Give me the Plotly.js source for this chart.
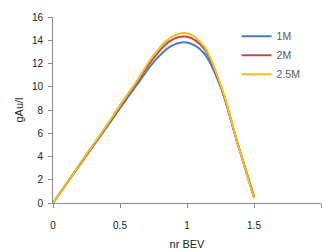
<!DOCTYPE html>
<html>
<head>
<meta charset="utf-8">
<script src="https://cdn.plot.ly/plotly-3.0.1.min.js"></script>
<style>html,body{margin:0;padding:0;background:#fff;}#chart{width:323px;height:251px;}</style>
</head>
<body>
<div id="chart"></div>
<script>
const xBEV = [0, 0.125, 0.25, 0.375, 0.5, 0.625, 0.75, 0.875, 1.0, 1.125, 1.25, 1.375, 1.5];
const series1M  = [0, 2.05, 4.1, 6.1, 8.15, 10.15, 12.1, 13.45, 13.8, 12.9, 10.0, 5.2, 0.5];
const series2M  = [0, 2.08, 4.15, 6.2, 8.3, 10.4, 12.45, 13.95, 14.3, 13.3, 10.1, 5.25, 0.55];
const series25M = [0, 2.1, 4.2, 6.25, 8.4, 10.5, 12.7, 14.2, 14.6, 13.5, 10.2, 5.25, 0.4];
const seriesNames = ["1M", "2M", "2.5M"];
const xTicks = [0, 0.5, 1, 1.5, 2];
const yTicks = [0, 2, 4, 6, 8, 10, 12, 14, 16];

const colors = ["#4A7EBB", "#BE4B48", "#F5BD1F"];
const allY = [series1M, series2M, series25M];
const traces = allY.map((ys, i) => ({
  x: xBEV, y: ys, name: seriesNames[i], type: "scatter", mode: "lines",
  line: {color: colors[i], width: 2, shape: "spline", smoothing: 1}
}));

const axisCommon = {
  showgrid: false, zeroline: false, showline: true, linecolor: "#8c8c8c", linewidth: 1,
  ticks: "outside", tickcolor: "#8c8c8c", ticklen: 4,
  tickfont: {family: "Liberation Sans, Arial, sans-serif", size: 10, color: "#222"}
};

const layout = {
  width: 323, height: 251,
  margin: {l: 53, r: 2, t: 17, b: 48},
  paper_bgcolor: "#fff", plot_bgcolor: "#fff",
  showlegend: true,
  legend: {x: 0.685, xanchor: "left", y: 0.975, yanchor: "top",
    font: {family: "Liberation Sans, Arial, sans-serif", size: 10.5, color: "#595959"},
    bgcolor: "rgba(0,0,0,0)"},
  xaxis: Object.assign({}, axisCommon, {range: [0, 2], tickvals: xTicks, ticktext: xTicks.map(String),
    ticklabelstandoff: 9,
    title: {text: "nr BEV", standoff: 10, font: {family: "Liberation Sans, Arial, sans-serif", size: 11, color: "#222"}}}),
  yaxis: Object.assign({}, axisCommon, {range: [0, 16], tickvals: yTicks, ticktext: yTicks.map(String),
    ticklabelstandoff: 3,
    title: {text: "gAu/l", standoff: 6, font: {family: "Liberation Sans, Arial, sans-serif", size: 11, color: "#222"}}})
};

Plotly.newPlot("chart", traces, layout, {staticPlot: true, displayModeBar: false});
</script>
</body>
</html>
